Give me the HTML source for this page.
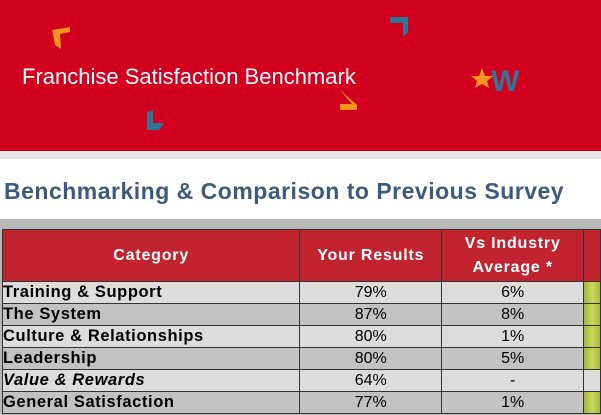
<!DOCTYPE html>
<html><head><style>
body{margin:0;width:601px;height:415px;overflow:hidden;position:relative;background:#fff;font-family:"Liberation Sans",sans-serif}
.hdr{position:absolute;left:0;top:0;width:601px;height:151px;background:#d2001e}
.strip{position:absolute;left:0;top:151px;width:601px;height:8px;background:#e2e4e4}
.t1{position:absolute;left:22px;top:64px;color:#fff;font-size:22px;letter-spacing:0px}
.t2{position:absolute;left:4px;top:178px;color:#3b5a7e;font-size:23px;font-weight:bold;letter-spacing:0.5px}
.band{position:absolute;left:0;top:219px;width:601px;height:196px;background:#b8b8b8}
table{position:absolute;left:2px;top:229px;border-collapse:collapse;font-size:16px}
td{border:1px solid #333;padding:0;height:21px;line-height:21px}
td b{letter-spacing:0.6px;font-size:16.5px}
th{background:#c1232f;color:#fff;border:1px solid #333;height:49px;font-size:16px;letter-spacing:0.8px}
.c{text-align:center;font-size:16px}
.l td{background:#dcdcdc}.d td{background:#c2c2c2}
.g{background:linear-gradient(90deg,#a6b83a,#c9d95a,#a6b83a)!important}
</style></head><body>
<div class="hdr"></div>
<svg style="position:absolute;left:0;top:0" width="601" height="151">
<polygon points="52,30 70,27 70,32 60,34 61,49 55,45" fill="#f7931e"/>
<polygon points="390,17 408,17 408,32 403,37 403,23 390,23" fill="#2e7696"/>
<polygon points="340,90 357,105 357,110 340,110 340,104 352,104" fill="#f7931e"/>
<polygon points="147,112 153,110 153,123 164,123 159,130 147,130" fill="#2e7696"/>
<polygon points="482,68 485,76 493,76 487,81 489,88 482,84 475,88 477,81 471,76 479,76" fill="#f7931e"/>
<text x="491" y="91" font-family="Liberation Sans" font-weight="bold" font-size="30" fill="#2e7696">W</text>
</svg>
<div class="t1">Franchise Satisfaction Benchmark</div>
<div class="strip"></div>
<div class="t2">Benchmarking &amp; Comparison to Previous Survey</div>
<div class="band"></div>
<table>
<tr><th style="width:297px">Category</th><th style="width:140px">Your Results</th><th style="width:140px;line-height:24px">Vs Industry<br>Average *</th><th style="width:14px"></th></tr>
<tr class="l"><td><b>Training &amp; Support</b></td><td class="c">79%</td><td class="c">6%</td><td class="g"></td></tr>
<tr class="d"><td><b>The System</b></td><td class="c">87%</td><td class="c">8%</td><td class="g"></td></tr>
<tr class="l"><td><b>Culture &amp; Relationships</b></td><td class="c">80%</td><td class="c">1%</td><td class="g"></td></tr>
<tr class="d"><td><b>Leadership</b></td><td class="c">80%</td><td class="c">5%</td><td class="g"></td></tr>
<tr class="l"><td><b><i>Value &amp; Rewards</i></b></td><td class="c">64%</td><td class="c">-</td><td></td></tr>
<tr class="d"><td><b>General Satisfaction</b></td><td class="c">77%</td><td class="c">1%</td><td class="g"></td></tr>
</table>
</body></html>
